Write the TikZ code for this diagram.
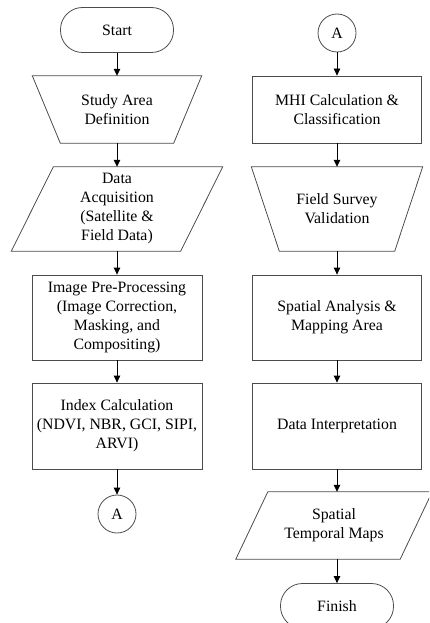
\documentclass[tikz,border=0pt]{standalone}
\usepackage{fontspec}
\setmainfont{Liberation Serif}
\usetikzlibrary{arrows.meta,calc}
\begin{document}
\begin{tikzpicture}[x=1pt,y=-1pt,
  every node/.style={font=\fontsize{15.8}{19}\selectfont, align=center, inner sep=0pt},
  outl/.style={draw=black!70, line width=0.8pt},
  boxn/.style={outl, minimum width=170pt},
  term/.style={outl, rounded corners=22pt, minimum width=113pt, minimum height=45pt},
  conn/.style={outl, circle, minimum size=38pt},
  ghost/.style={draw=none},
  arr/.style={draw=black, line width=0.8pt, -{Triangle[width=6.5pt,length=7pt]}}
]
\useasboundingbox (0,0) rectangle (429,623);
\begin{scope}
\clip (0,0) rectangle (429,623);
% left column
\node[term] (start) at (117,30) {Start};
\node[ghost, minimum width=169pt, minimum height=67pt] (study) at (117,109.5) {Study Area\\Definition};
\draw[outl] (study.north west) -- (study.north east) -- ([xshift=-28pt]study.south east) -- ([xshift=28pt]study.south west) -- cycle;
\node[ghost, minimum width=169pt, minimum height=84pt] (acq) at (117,209) {Data\\Acquisition\\(Satellite \&\\Field Data)};
\draw[outl] ([xshift=21pt]acq.north west) -- ([xshift=21pt]acq.north east) -- ([xshift=-21pt]acq.south east) -- ([xshift=-21pt]acq.south west) -- cycle;
\node[boxn, minimum height=85pt] (pre) at (117,317.5) {Image Pre-Processing\\(Image Correction,\\Masking, and\\Compositing)};
\node[boxn, minimum height=86pt] (idx) at (117,426) {Index Calculation\\(NDVI, NBR, GCI, SIPI,\\ARVI)};
\node[conn] (a1) at (117,514) {A};
% right column
\node[conn] (a2) at (337,33) {A};
\node[boxn, minimum width=169pt, minimum height=67pt] (mhi) at (337,109.5) {MHI Calculation \&\\Classification};
\node[ghost, minimum width=171pt, minimum height=84pt] (field) at (337,209) {Field Survey\\Validation};
\draw[outl] (field.north west) -- (field.north east) -- ([xshift=-28pt]field.south east) -- ([xshift=28pt]field.south west) -- cycle;
\node[boxn, minimum width=169pt, minimum height=85pt] (spa) at (337,317.5) {Spatial Analysis \&\\Mapping Area};
\node[boxn, minimum width=169pt, minimum height=86pt] (dint) at (337,426) {Data Interpretation};
\node[ghost, minimum width=164pt, minimum height=67pt] (stm) at (334,525.5) {Spatial\\Temporal Maps};
\draw[outl] ([xshift=16pt]stm.north west) -- ([xshift=16pt]stm.north east) -- ([xshift=-16pt]stm.south east) -- ([xshift=-16pt]stm.south west) -- cycle;
\node[term] (finish) at (337,606) {Finish};
% connectors
\draw[arr] (start.south) -- (study.north);
\draw[arr] (study.south) -- (acq.north);
\draw[arr] (acq.south) -- (pre.north);
\draw[arr] (pre.south) -- (idx.north);
\draw[arr] (idx.south) -- (a1.north);
\draw[arr] (a2.south) -- (mhi.north);
\draw[arr] (mhi.south) -- (field.north);
\draw[arr] (field.south) -- (spa.north);
\draw[arr] (spa.south) -- (dint.north);
\draw[arr] (dint.south) -- (dint.south |- stm.north);
\draw[arr] (dint.south |- stm.south) -- (finish.north);
\end{scope}
\end{tikzpicture}
\end{document}
